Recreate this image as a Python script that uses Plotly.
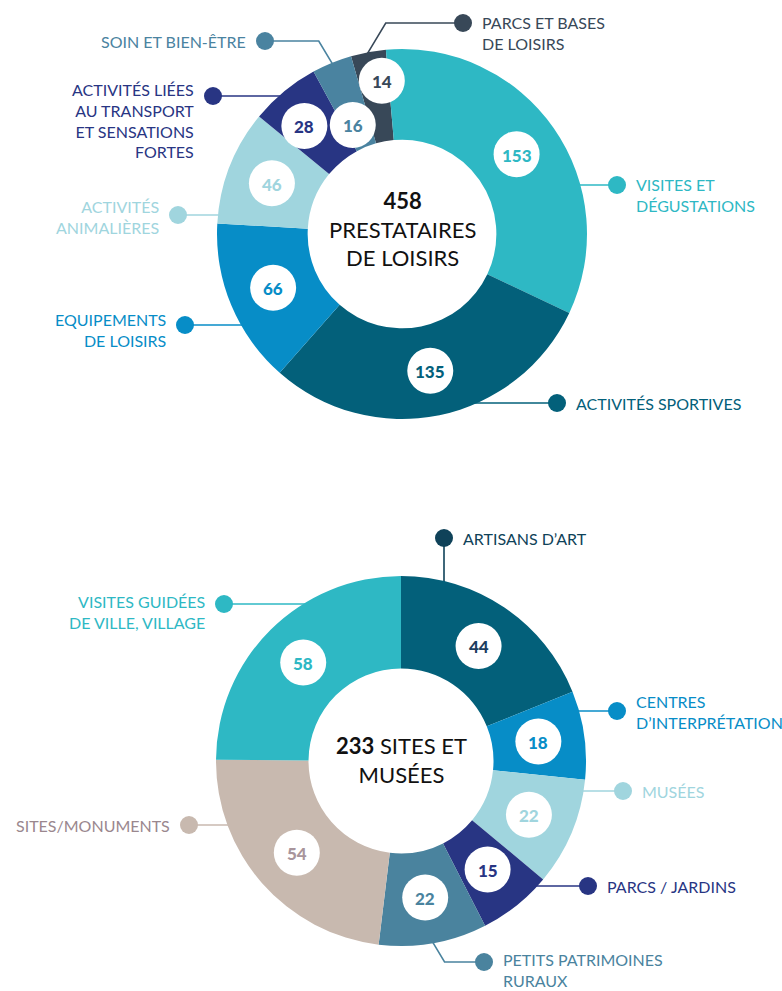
import numpy as np
import plotly.graph_objects as go

W, H = 782, 991

# --- donut 1 : prestataires de loisirs (clockwise from the top)
loisirs_labels = ["PARCS ET BASES<br>DE LOISIRS", "VISITES ET<br>DÉGUSTATIONS", "ACTIVITÉS SPORTIVES",
                  "EQUIPEMENTS<br>DE LOISIRS", "ACTIVITÉS<br>ANIMALIÈRES",
                  "ACTIVITÉS LIÉES<br>AU TRANSPORT<br>ET SENSATIONS<br>FORTES", "SOIN ET BIEN-ÊTRE"]
loisirs_values = [14, 153, 135, 66, 46, 28, 16]
loisirs_total = 458
loisirs_title = "PRESTATAIRES<br>DE LOISIRS"

# --- donut 2 : sites et musées
sites_labels = ["ARTISANS D’ART", "CENTRES<br>D’INTERPRÉTATION", "MUSÉES", "PARCS / JARDINS",
                "PETITS PATRIMOINES<br>RURAUX", "SITES/MONUMENTS", "VISITES GUIDÉES<br>DE VILLE, VILLAGE"]
sites_values = [44, 18, 22, 15, 22, 54, 58]
sites_total = 233
sites_title = "SITES ET<br>MUSÉES"

FONT = "Lato"

# styling / layout of each donut (pixel coords, y down)
# anchors: dot x, dot y, text side, leader mode, text block y offset
top_cfg = dict(
    cx=402, cy=234, r=185, hole=0.51, rotation=-16,
    colors=["#384858", "#2eb8c4", "#03607a", "#078dc7", "#a0d5de", "#283583", "#4a83a0"],
    numcolors=["#384858", "#2eb8c4", "#03607a", "#078dc7", "#a0d5de", "#283583", "#4a83a0"],
    textcolors=["#384858", "#2eb8c4", "#03607a", "#078dc7", "#a0d5de", "#283583", "#4a83a0"],
    anchors=[(463, 23, "left", "h", 10), (617, 185, "left", "h", 10), (557, 403, "left", "h", 0),
             (185, 325, "right", "h", 5), (178, 215, "right", "h", 2), (213, 96, "right", "h", 24),
             (265, 41, "right", "h", 0)],
    badge_dr=[15, 0, 0, 0, 0, 6, -20],
    badge_da=[3, 0, 0, 0, 0, -2.5, -2],
    center_text="<b>%d</b><br>%s" % (loisirs_total, loisirs_title),
    center_dy=-5,
)
bot_cfg = dict(
    cx=401, cy=761, r=185, hole=0.5, rotation=0,
    colors=["#03607a", "#078dc7", "#a0d5de", "#283583", "#4a839e", "#c8b9af", "#2eb8c4"],
    numcolors=["#1d3d5e", "#078dc7", "#a0d5de", "#283583", "#4a839e", "#a8959c", "#2eb8c4"],
    textcolors=["#0f4259", "#078dc7", "#a0d5de", "#283583", "#4a839e", "#9a878e", "#2eb8c4"],
    dotcolors=["#0f4259", "#078dc7", "#a0d5de", "#283583", "#4a839e", "#c8b9af", "#2eb8c4"],
    anchors=[(444, 538, "left", "v", 0), (617, 711, "left", "h", 1), (623, 791, "left", "h", 0),
             (588, 886, "left", "h", 0), (484, 962, "left", "h", 8), (189, 825, "right", "h", 0),
             (224, 604, "right", "h", 8)],
    badge_dr=[0, 0, 0, 0, 0, 0, 0],
    badge_da=[0, 0, 0, 0, 0, 0, 0],
    center_text="<b>%d</b> %s" % (sites_total, sites_title),
    center_dy=-1,
)


def pt(cfg, ang, rad):
    a = np.radians(ang)
    return cfg["cx"] + rad * np.sin(a), cfg["cy"] - rad * np.cos(a)


def add_donut(fig, labels, values, cfg):
    cx, cy, r = cfg["cx"], cfg["cy"], cfg["r"]
    fig.add_trace(go.Pie(
        values=values, labels=[l.replace("<br>", " ") for l in labels], sort=False,
        direction="clockwise", rotation=cfg["rotation"], hole=cfg["hole"],
        marker=dict(colors=cfg["colors"], line=dict(width=0)),
        textinfo="none", hoverinfo="label+value", showlegend=False,
        domain=dict(x=[(cx - r) / W, (cx + r) / W], y=[1 - (cy + r) / H, 1 - (cy - r) / H]),
    ))

    vals = np.array(values, dtype=float)
    cum = np.cumsum(vals)
    starts = cfg["rotation"] + 360 * (cum - vals) / vals.sum()
    ends = cfg["rotation"] + 360 * cum / vals.sum()
    mids = (starts + ends) / 2
    r_lab = r * (1 + cfg["hole"]) / 2

    dotcolors = cfg.get("dotcolors", cfg["colors"])
    for i, lab in enumerate(labels):
        # white badge with the value
        bx, by = pt(cfg, mids[i] + cfg["badge_da"][i], r_lab + cfg["badge_dr"][i])
        fig.add_shape(type="circle", xref="x", yref="y", x0=bx - 23, x1=bx + 23, y0=by - 23, y1=by + 23,
                      fillcolor="white", line=dict(width=0), layer="above")
        fig.add_annotation(x=bx, y=by + 1, text=str(values[i]), showarrow=False,
                           font=dict(family=FONT, size=17, color=cfg["numcolors"][i], weight=900))

        # leader line from the outer label to the slice
        dx, dy, side, mode, tdy = cfg["anchors"][i]
        m = 2.0
        nat = None
        if mode == "h" and abs(dy - cy) < r:
            hx = np.sqrt(r * r - (dy - cy) ** 2) * (1 if dx > cx else -1)
            nat = np.degrees(np.arctan2(hx, cy - dy)) % 360
        elif mode == "v" and abs(dx - cx) < r:
            vy = np.sqrt(r * r - (dx - cx) ** 2) * (1 if dy > cy else -1)
            nat = np.degrees(np.arctan2(dx - cx, -vy)) % 360
        lo, hi = starts[i] + m, ends[i] - m
        if nat is not None:
            while nat < starts[i] - 180:
                nat += 360
            while nat > ends[i] + 180:
                nat -= 360
        if nat is not None and lo <= nat <= hi:
            ex, ey = pt(cfg, nat, r)
            xs, ys = [dx, ex], [dy, ey]
        else:
            ang = mids[i] if nat is None else min(max(nat, lo), hi)
            ex, ey = pt(cfg, ang, r)
            s = 1 if dx > ex else -1
            kx = ex + s * abs(dy - ey) * 0.6
            xs, ys = [dx, kx, ex], [dy, dy, ey]
        # push the end a little under the pie
        vx, vy = xs[-1] - xs[-2], ys[-1] - ys[-2]
        n = np.hypot(vx, vy)
        xs.append(xs[-1] + vx / n * 8)
        ys.append(ys[-1] + vy / n * 8)
        fig.add_trace(go.Scatter(x=xs, y=ys, mode="lines", line=dict(color=dotcolors[i], width=1.6),
                                 hoverinfo="skip", showlegend=False))
        fig.add_trace(go.Scatter(x=[dx], y=[dy], mode="markers",
                                 marker=dict(size=18, color=dotcolors[i], line=dict(width=0)),
                                 hoverinfo="skip", showlegend=False))
        tx = dx + 17 if side == "left" else dx - 17
        fig.add_annotation(x=tx, y=dy + tdy, text=lab, showarrow=False, xanchor=side, align=side,
                           font=dict(family=FONT, size=16, color=cfg["textcolors"][i]))

    fig.add_annotation(x=cx, y=cy + cfg["center_dy"], text=cfg["center_text"], showarrow=False,
                       align="center", font=dict(family=FONT, size=22, color="#111111"))


fig = go.Figure()
add_donut(fig, loisirs_labels, loisirs_values, top_cfg)
add_donut(fig, sites_labels, sites_values, bot_cfg)

fig.update_layout(
    width=W, height=H, margin=dict(l=0, r=0, t=0, b=0),
    paper_bgcolor="white", plot_bgcolor="white",
    xaxis=dict(range=[0, W], visible=False, fixedrange=True),
    yaxis=dict(range=[H, 0], visible=False, fixedrange=True),
)
fig.write_html("out.html", config={"displayModeBar": False},
               post_script="document.body.style.margin='0';")
